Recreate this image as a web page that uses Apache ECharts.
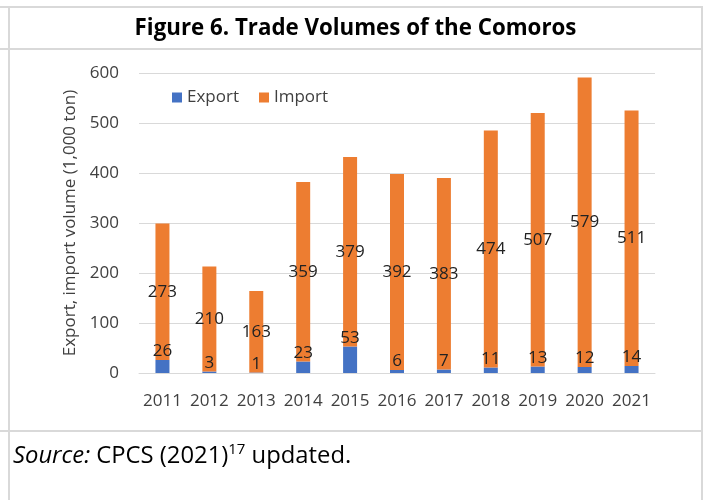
<!DOCTYPE html>
<html>
<head>
<meta charset="utf-8">
<script src="https://cdn.jsdelivr.net/npm/echarts@6/dist/echarts.min.js"></script>
<style>
  html, body { margin:0; padding:0; width:706px; height:500px; background:#fff; overflow:hidden; }
  .ln { position:absolute; background:#d9d9d9; }
  #title { position:absolute; left:8px; width:695px; top:12px; text-align:center;
    font-family:'Open Sans', sans-serif; font-weight:bold; font-size:22.3px; color:#000; line-height:30px; }
  #source { position:absolute; left:13px; top:438px; font-family:'Open Sans', sans-serif; font-size:23.8px; color:#000; line-height:32px; }
  #source sup { font-size:15px; vertical-align:9px; line-height:0; }
  #chart { position:absolute; left:0; top:0; width:706px; height:500px; }
</style>
</head>
<body>
<div id="chart"></div>
<div class="ln" style="left:0;top:6px;width:703px;height:2px"></div>
<div class="ln" style="left:0;top:48px;width:703px;height:2px"></div>
<div class="ln" style="left:0;top:430px;width:703px;height:2px"></div>
<div class="ln" style="left:8px;top:6px;width:2px;height:494px"></div>
<div class="ln" style="left:701px;top:6px;width:2px;height:494px"></div>
<div id="title">Figure 6. Trade Volumes of the Comoros</div>
<div id="source"><i>Source:</i> CPCS (2021)<sup>17</sup> updated.</div>
<script>
const years = ['2011','2012','2013','2014','2015','2016','2017','2018','2019','2020','2021'];
const exportVals = [26, 3, 1, 23, 53, 6, 7, 11, 13, 12, 14];
const importVals = [273, 210, 163, 359, 379, 392, 383, 474, 507, 579, 511];
const yTicks = [0, 100, 200, 300, 400, 500, 600];

const FONT = "'Open Sans', sans-serif";
const chart = echarts.init(document.getElementById('chart'), null, {renderer:'canvas'});
chart.setOption({
  animation: false,
  backgroundColor: 'transparent',
  textStyle: { fontFamily: FONT },
  legend: {
    left: 167, top: 84,
    itemWidth: 10, itemHeight: 10, itemGap: 20,
    icon: 'rect',
    textStyle: { fontFamily: FONT, fontSize: 17, color: '#404040' },
    data: ['Export', 'Import']
  },
  grid: { left: 139, right: 51, top: 73, bottom: 127, containLabel: false },
  xAxis: {
    type: 'category', data: years,
    axisLine: { show: true, lineStyle: { color: '#d9d9d9', width: 1 } },
    axisTick: { show: false },
    axisLabel: { fontFamily: FONT, fontSize: 17, color: '#404040', margin: 20, interval: 0 }
  },
  yAxis: {
    type: 'value', min: yTicks[0], max: yTicks[yTicks.length-1], interval: 100,
    name: 'Export, import volume (1,000 ton)',
    nameLocation: 'middle', nameGap: 55, nameRotate: 90,
    nameTextStyle: { fontFamily: FONT, fontSize: 17, color: '#404040' },
    axisLine: { show: false }, axisTick: { show: false },
    axisLabel: { fontFamily: FONT, fontSize: 17, color: '#404040', margin: 20 },
    splitLine: { lineStyle: { color: '#d9d9d9', width: 1 } }
  },
  series: [
    {
      name: 'Export', type: 'bar', stack: 'total', data: exportVals, barWidth: 14,
      itemStyle: { color: '#4472C4' },
      label: { show: true, position: 'top', distance: 0, fontFamily: FONT, fontSize: 17, color: '#222' }
    },
    {
      name: 'Import', type: 'bar', stack: 'total', data: importVals, barWidth: 14,
      itemStyle: { color: '#ED7D31' },
      label: { show: true, position: 'inside', fontFamily: FONT, fontSize: 17, color: '#222' }
    }
  ]
});
</script>
</body>
</html>
